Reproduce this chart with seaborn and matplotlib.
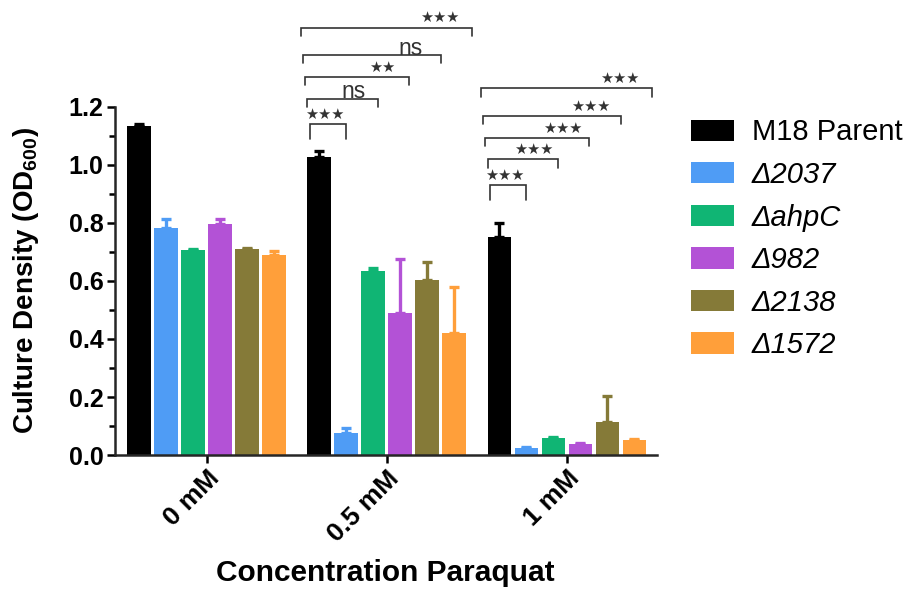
import numpy as np
import pandas as pd
import seaborn as sns
import matplotlib.pyplot as plt
from matplotlib.ticker import MultipleLocator

# concentrations on the x axis
concentrations = ['0 mM', '0.5 mM', '1 mM']
strains = ['M18 Parent', 'Δ2037', 'ΔahpC', 'Δ982', 'Δ2138', 'Δ1572']

# mean OD600 per strain (one value per concentration)
parent = [1.133, 1.029, 0.753]
d2037 = [0.784, 0.075, 0.023]
dahpc = [0.706, 0.633, 0.058]
d982 = [0.796, 0.489, 0.038]
d2138 = [0.710, 0.604, 0.115]
d1572 = [0.690, 0.420, 0.052]

# upper error bars
parent_err = [0.008, 0.018, 0.047]
d2037_err = [0.029, 0.019, 0.004]
dahpc_err = [0.004, 0.011, 0.005]
d982_err = [0.017, 0.187, 0.004]
d2138_err = [0.004, 0.060, 0.089]
d1572_err = [0.013, 0.159, 0.003]

# significance vs parent, for 0.5 mM and 1 mM
sig_05 = ['***', 'ns', '**', 'ns', '***']
sig_1 = ['***', '***', '***', '***', '***']

colors = ['#000000', '#4f9cf5', '#10b574', '#b352d6', '#857a38', '#ff9f3a']

means = [parent, d2037, dahpc, d982, d2138, d1572]
errs = [parent_err, d2037_err, dahpc_err, d982_err, d2138_err, d1572_err]

rows = []
for s, m, e in zip(strains, means, errs):
    for c, v, ev in zip(concentrations, m, e):
        rows.append({'conc': c, 'strain': s, 'od': v, 'err': ev})
df = pd.DataFrame(rows)

sns.set_style('ticks')
plt.rcParams['font.family'] = ['Liberation Sans', 'DejaVu Sans']
plt.rcParams['mathtext.default'] = 'regular'
plt.rcParams['text.color'] = 'black'
plt.rcParams['axes.labelcolor'] = 'black'
plt.rcParams['xtick.color'] = 'black'
plt.rcParams['ytick.color'] = 'black'

fig = plt.figure(figsize=(9.11, 5.92), dpi=100)
ax = fig.add_axes([0.126, 0.2314, 0.595, 0.5879])

palette = dict(zip(strains, colors))
sns.barplot(data=df, x='conc', y='od', hue='strain', order=concentrations,
            hue_order=strains, palette=palette, errorbar=None, width=0.9, gap=0.13,
            linewidth=0, saturation=1, ax=ax)

# one-sided error bars on top of each bar
bar_x = {}
for s, cont in zip(strains, ax.containers):
    sub = df[df.strain == s].set_index('conc').loc[concentrations]
    xs = [b.get_x() + b.get_width() / 2 for b in cont]
    hs = [b.get_height() for b in cont]
    bar_x[s] = xs
    ax.errorbar(xs, hs, yerr=[np.zeros(len(xs)), sub['err'].values], fmt='none',
                ecolor=palette[s], elinewidth=2.4, capsize=3.6, capthick=2.4, zorder=3)

black_w = ax.containers[0][0].get_width()

# significance brackets
def brackets(gi, labels, base):
    offs = [0, 0.089, 0.162, 0.238, 0.334]
    legs = [0.05, 0.03, 0.026, 0.026, 0.03]
    x0 = bar_x[strains[0]][gi] - black_w / 2
    for k, lab in enumerate(labels):
        y = base + offs[k]
        xs = x0 + 0.012 - 0.012 * k
        xe = bar_x[strains[k + 1]][gi] + 0.025 * k
        ax.plot([xs, xs, xe, xe], [y - legs[k], y, y, y - legs[k]], color='#333333',
                lw=1.2, clip_on=False, solid_joinstyle='miter')
        tx = xe - 0.12 - 0.015 * k
        if lab == 'ns':
            ax.text(tx, y + 0.002, 'ns', ha='center', va='baseline', fontsize=16.5,
                    color='#333333', clip_on=False)
        else:
            ax.text(tx, y + 0.035, '★' * len(lab), ha='center', va='center',
                    fontsize=10.5, color='#333333', family='DejaVu Sans', clip_on=False)

brackets(1, sig_05, 1.14)
brackets(2, sig_1, 0.93)

ax.set_ylim(0, 1.2)
ax.set_xlim(-0.51, 2.5)
ax.yaxis.set_major_locator(MultipleLocator(0.2))
ax.yaxis.set_minor_locator(MultipleLocator(0.1))
ax.yaxis.set_major_formatter(plt.FormatStrFormatter('%.1f'))
sns.despine(ax=ax)
for sp in ['left', 'bottom']:
    ax.spines[sp].set_linewidth(1.8)
ax.tick_params(axis='both', which='major', width=1.8, length=6, labelsize=18, pad=2)
ax.tick_params(axis='y', which='minor', width=1.8, length=4)
for lab in ax.get_yticklabels():
    lab.set_fontweight('bold')
ax.set_xticks(range(len(concentrations)))
ax.set_xticklabels(concentrations, rotation=45, ha='right', rotation_mode='anchor',
                   fontsize=19, fontweight='bold')

ax.set_ylabel('Culture Density (OD$_{600}$)', fontsize=20, fontweight='bold')
ax.yaxis.set_label_coords(-0.137, 0.5)
ax.set_xlabel('Concentration Paraquat', fontsize=21.5, fontweight='bold')
ax.xaxis.set_label_coords(0.5, -0.30)

handles, labels = ax.get_legend_handles_labels()
leg = ax.legend(handles, labels, loc='upper left', bbox_to_anchor=(0.759, 0.80),
                bbox_transform=fig.transFigure, frameon=False, fontsize=21,
                handlelength=1.47, handleheight=0.75, handletextpad=0.6,
                labelspacing=0.5, borderpad=0, borderaxespad=0)
for t in leg.get_texts():
    if t.get_text().startswith('Δ'):
        t.set_fontstyle('italic')

fig.savefig('out.png', dpi=100)
